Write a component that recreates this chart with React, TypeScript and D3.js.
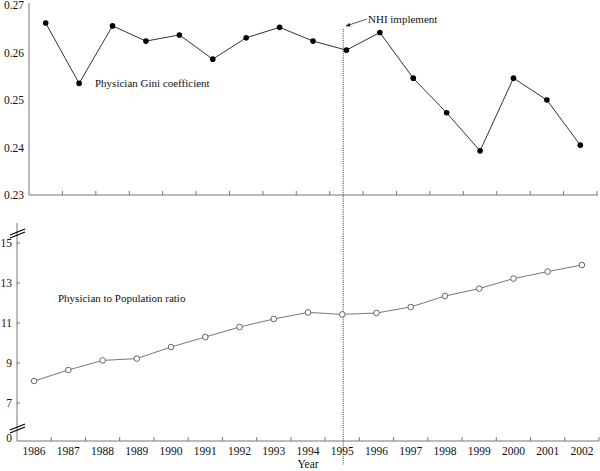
import React from 'react';
import * as d3 from 'd3';

const years = ['1986', '1987', '1988', '1989', '1990', '1991', '1992', '1993', '1994', '1995', '1996', '1997', '1998', '1999', '2000', '2001', '2002'];
const giniValues = [0.2662, 0.2535, 0.2656, 0.2624, 0.2637, 0.2586, 0.2631, 0.2653, 0.2624, 0.2605, 0.2642, 0.2546, 0.2473, 0.2393, 0.2546, 0.2500, 0.2405];
const ratioValues = [8.1, 8.65, 9.13, 9.22, 9.8, 10.3, 10.8, 11.2, 11.53, 11.43, 11.5, 11.8, 12.35, 12.72, 13.22, 13.57, 13.9];
const giniTicks = [0.23, 0.24, 0.25, 0.26, 0.27];
const ratioTicks = [7, 9, 11, 13, 15];
const eventYear = '1995';

const FONT = "'Liberation Serif', 'Times New Roman', 'DejaVu Serif', serif";

export default function App() {
  // top panel
  const xTop = d3.scaleBand<string>().domain(years).range([29, 597]);
  const yTop = d3.scaleLinear().domain([0.23, 0.27]).range([195, 5]);
  const topBase = yTop(0.23);
  const topLine = d3.line<number>()
    .x((_, i) => xTop(years[i])! + xTop.bandwidth() / 2)
    .y(d => yTop(d));

  // bottom panel (broken axis: 0 then 7..15)
  const xBot = d3.scaleBand<string>().domain(years).range([17, 599]);
  const yBot = d3.scaleLinear().domain([7, 15]).range([403, 243]);
  const botBase = 441;
  const botTop = yBot(16);
  const botLine = d3.line<number>()
    .x((_, i) => xBot(years[i])! + xBot.bandwidth() / 2)
    .y(d => yBot(d));

  const eventX = xBot(eventYear)! + xBot.bandwidth() / 2 + 1;
  const axisColor = '#777';

  const breakMark = (y: number, key: string) => (
    <g key={key} stroke="#000" strokeWidth={1.2}>
      <line x1={10} y1={y + 3} x2={25} y2={y - 3} />
      <line x1={10} y1={y + 6} x2={25} y2={y} />
    </g>
  );

  return (
    <svg width={600} height={471} style={{ position: 'absolute', left: 0, top: 0, background: '#fff' }}>
      <style>{`text { font-family: ${FONT}; fill: #111; }`}</style>
      <defs>
        <marker id="arr" viewBox="0 0 10 10" refX="9" refY="5" markerWidth="6" markerHeight="6" orient="auto">
          <path d="M0,1 L10,5 L0,9 z" fill="#222" />
        </marker>
      </defs>

      {/* top axes */}
      <line x1={29} x2={29} y1={3} y2={topBase} stroke={axisColor} />
      <line x1={29} x2={598} y1={topBase} y2={topBase} stroke={axisColor} />
      {years.map(y => (
        <line key={'tt' + y} x1={xTop(y)! + xTop.bandwidth()} x2={xTop(y)! + xTop.bandwidth()}
          y1={topBase} y2={topBase - 4} stroke={axisColor} />
      ))}
      {giniTicks.map(t => (
        <text key={'gy' + t} x={24} y={yTop(t)} dy="0.35em" textAnchor="end" fontSize={11.5}>
          {t.toFixed(2)}
        </text>
      ))}
      <path d={topLine(giniValues)!} fill="none" stroke="#333" strokeWidth={1} />
      {giniValues.map((v, i) => (
        <circle key={'gc' + i} cx={xTop(years[i])! + xTop.bandwidth() / 2} cy={yTop(v)} r={2.8} fill="#000" />
      ))}
      <text x={95} y={87} fontSize={11}>Physician Gini coefficient</text>

      {/* event line and annotation */}
      <line x1={eventX} x2={eventX} y1={29} y2={465} stroke="#333" strokeWidth={1} strokeDasharray="1,1.2" />
      <line x1={367} y1={19} x2={346} y2={26} stroke="#333" strokeWidth={0.8} markerEnd="url(#arr)" />
      <text x={368} y={23} fontSize={11}>NHI implement</text>

      {/* bottom axes */}
      <line x1={17} x2={17} y1={botTop} y2={botBase} stroke={axisColor} />
      <line x1={17} x2={599} y1={botBase} y2={botBase} stroke={axisColor} />
      {years.map(y => (
        <line key={'bt' + y} x1={xBot(y)! + xBot.bandwidth()} x2={xBot(y)! + xBot.bandwidth()}
          y1={botBase} y2={botBase - 4} stroke={axisColor} />
      ))}
      {ratioTicks.map(t => (
        <g key={'ry' + t}>
          <line x1={17} x2={20} y1={yBot(t)} y2={yBot(t)} stroke={axisColor} />
          <text x={12} y={yBot(t)} dy="0.35em" textAnchor="end" fontSize={11.5}>{t}</text>
        </g>
      ))}
      <text x={12} y={botBase} dy="0.1em" textAnchor="end" fontSize={11.5}>0</text>
      {breakMark(232, 'b1')}
      {breakMark(427, 'b2')}
      {years.map(y => (
        <text key={'bx' + y} x={xBot(y)! + xBot.bandwidth() / 2} y={455} textAnchor="middle" fontSize={11.5}>
          {y}
        </text>
      ))}
      <text x={308} y={468} textAnchor="middle" fontSize={11.5}>Year</text>

      <path d={botLine(ratioValues)!} fill="none" stroke="#777" strokeWidth={1} />
      {ratioValues.map((v, i) => (
        <circle key={'rc' + i} cx={xBot(years[i])! + xBot.bandwidth() / 2} cy={yBot(v)} r={2.8}
          fill="#fff" stroke="#555" strokeWidth={0.9} />
      ))}
      <text x={58} y={302} fontSize={11}>Physician to Population ratio</text>
    </svg>
  );
}
